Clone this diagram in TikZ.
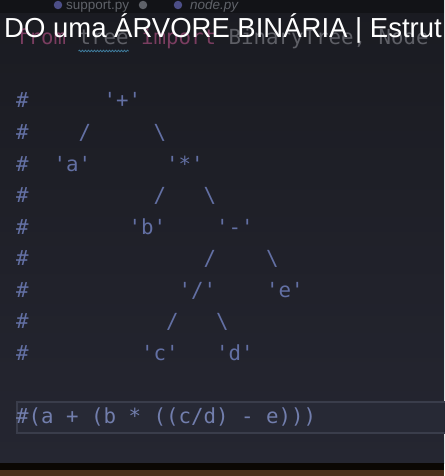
\documentclass[tikz,border=0pt]{standalone}
\usepackage{fontspec}
\setmainfont{Liberation Sans}
\newfontfamily\codefont{DejaVu Sans Mono}
\usetikzlibrary{decorations.pathmorphing}
\definecolor{editortop}{HTML}{1A1B21}
\definecolor{editorbot}{HTML}{252631}
\definecolor{tabbar}{HTML}{121317}
\definecolor{comment}{HTML}{6370A4}
\definecolor{keyword}{HTML}{7A3D60}
\definecolor{dimtext}{HTML}{5E5F66}
\definecolor{tabtext}{HTML}{5F6269}
\definecolor{curline}{HTML}{272935}
\definecolor{curborder}{HTML}{3A3D4B}
\definecolor{squiggle}{HTML}{3F7C9C}
\definecolor{desk}{HTML}{4A2E19}
\newcommand\quoted[1]{\textquotesingle#1\textquotesingle}

\begin{document}
\begin{tikzpicture}[x=1pt,y=-1pt,
    code/.style={font=\codefont\fontsize{20.76}{24}\selectfont, text=comment, anchor=base west, inner sep=0pt},
    tab/.style={font=\fontsize{13.5}{15}\selectfont, text=tabtext, anchor=base west, inner sep=0pt}]
   \useasboundingbox (0,0) rectangle (444,476);
   % editor window
   \fill[top color=editortop, bottom color=editorbot] (0,0) rectangle (444,463);
   \fill[tabbar] (0,0) rectangle (444,13);
   \fill[black!85!desk] (0,463) rectangle (444,470);
   \fill[desk] (0,470) rectangle (444,476);
   % tabs
   \node[circle, fill=tabtext!80!blue, inner sep=3pt] (icon1) at (58,5) {};
   \node[tab] (support) at (66,10) {support.py};
   \node[circle, fill=tabtext, inner sep=3pt] (dirty) at (143,5) {};
   \node[circle, fill=tabtext!80!blue, inner sep=3pt] (icon2) at (178,5) {};
   \node[tab, font=\itshape\fontsize{13.5}{15}\selectfont] (nodetab) at (190,10) {node.py};
   % current line
   \filldraw[fill=curline, draw=curborder, line width=1.2pt] (450,402) -- (17,402) -- (17,433) -- (450,433);
   \begin{scope}[shift={(16,108)}, x=12.5pt, y=-31.5pt]
      \node[code, text=keyword] (from) at (0,-2) {from};
      \node[code, text=dimtext] (tree) at (5,-2) {tree};
      \node[code, text=keyword] (import) at (10,-2) {import};
      \node[code, text=dimtext] (names) at (17,-2) {BinaryTree, Node};
      \draw[squiggle, line width=0.8pt, decorate, decoration={snake, amplitude=0.8pt, segment length=3pt}]
         ([yshift=-6pt]tree.base west) -- ([yshift=-6pt]tree.base east);
      \foreach \r in {0,...,8}
         \node[code] (hash\r) at (0,\r) {\#};
      \node[code] (plus)  at (7,0)  {\quoted{+}};
      \node[code] (e1)    at (5,1)  {/};
      \node[code] (e2)    at (11,1) {\textbackslash};
      \node[code] (a)     at (3,2)  {\quoted{a}};
      \node[code] (times) at (12,2) {\quoted{*}};
      \node[code] (e3)    at (11,3) {/};
      \node[code] (e4)    at (15,3) {\textbackslash};
      \node[code] (b)     at (9,4)  {\quoted{b}};
      \node[code] (minus) at (16,4) {\quoted{-}};
      \node[code] (e5)    at (15,5) {/};
      \node[code] (e6)    at (20,5) {\textbackslash};
      \node[code] (div)   at (13,6) {\quoted{/}};
      \node[code] (e)     at (20,6) {\quoted{e}};
      \node[code] (e7)    at (12,7) {/};
      \node[code] (e8)    at (16,7) {\textbackslash};
      \node[code] (c)     at (10,8) {\quoted{c}};
      \node[code] (d)     at (16,8) {\quoted{d}};
      \node[code, text=comment!90!white] (expr) at (0,10) {\#(a + (b * ((c/d) - e)))};
   \end{scope}
   % video subtitle
   \node[anchor=base west, inner sep=0pt, text=white, font=\fontsize{27.5}{30}\selectfont] (subtitle) at (4,38) {DO uma ÁRVORE BINÁRIA | Estrut};
\end{tikzpicture}
\end{document}
